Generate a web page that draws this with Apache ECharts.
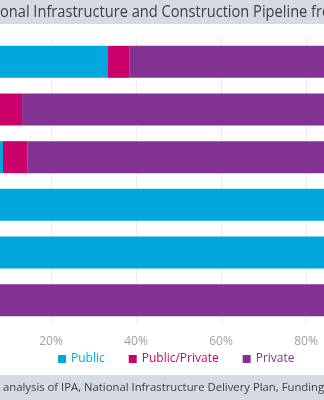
<!DOCTYPE html>
<html>
<head>
<meta charset="utf-8">
<script src="https://cdn.jsdelivr.net/npm/echarts@6/dist/echarts.min.js"></script>
<style>
  html, body { margin: 0; padding: 0; background: #ffffff; }
  #chart { width: 324px; height: 400px; }
</style>
</head>
<body>
<div id="chart"></div>
<script>
// Sectors of the pipeline, top to bottom
const sectors = ['Transport', 'Utilities', 'Energy', 'Social infrastructure', 'Science & research', 'Communications'];

// Share of each sector's pipeline by funding source (%)
const publicShare = [33.4, 0, 8.7, 100, 100, 0];
const publicPrivateShare = [5.0, 13.2, 5.7, 0, 0, 0];
const privateShare = [61.6, 86.8, 85.6, 0, 0, 100];

const seriesNames = ['Public', 'Public/Private', 'Private'];
const seriesColors = ['#00a7de', '#cc006b', '#833293'];

const xTicks = { min: 0, max: 100, interval: 20 };

const titleLead = 'Composition of the Nati';
const titleText = titleLead + 'onal Infrastructure and Construction Pipeline from 2018/19';
const sourceLead = 'Source: Centre for Cities ';
const sourceText = sourceLead + 'analysis of IPA, National Infrastructure Delivery Plan, Funding and Finance Supplement';

const font = '"Open Sans", "Noto Sans", sans-serif';
const titleFont = '17px ' + font;
const titleSquash = 0.86;   // the banner face is set slightly condensed
const sourceFont = '11.3px ' + font;

// Measure the lead-in text so the banner lines sit where the page is scrolled to
const ctx = document.createElement('canvas').getContext('2d');
function textWidth(s, f) { ctx.font = f; return ctx.measureText(s).width; }

const chart = echarts.init(document.getElementById('chart'));

const values = [publicShare, publicPrivateShare, privateShare];

chart.setOption({
  animation: false,
  textStyle: { fontFamily: font },
  grid: { left: -34, right: -67, top: 38, bottom: 76, containLabel: false, outerBoundsMode: 'none' },
  xAxis: {
    type: 'value',
    min: xTicks.min,
    max: xTicks.max,
    interval: xTicks.interval,
    axisLine: { show: false },
    axisTick: { show: false },
    axisLabel: { formatter: '{value}%', color: '#a0a0a0', fontSize: 12, margin: 12, fontFamily: font },
    splitLine: { show: true, lineStyle: { color: '#ececec', width: 1 } }
  },
  yAxis: {
    type: 'category',
    inverse: true,
    data: sectors,
    axisLine: { show: false },
    axisTick: { show: false },
    axisLabel: { show: false }
  },
  legend: {
    left: 53,
    top: 348,
    icon: 'rect',
    itemWidth: 8,
    itemHeight: 8,
    itemGap: 24,
    textStyle: { fontSize: 12, fontFamily: font },
    data: seriesNames.map((n, i) => ({ name: n, textStyle: { color: seriesColors[i] } }))
  },
  series: seriesNames.map((n, i) => ({
    name: n,
    type: 'bar',
    stack: 'total',
    barWidth: 32,
    itemStyle: { color: seriesColors[i] },
    data: values[i]
  })),
  graphic: [
    { type: 'rect', left: 0, top: 0, shape: { width: 324, height: 24 }, style: { fill: '#d5dbe0' }, z: 10 },
    { type: 'text', x: -textWidth(titleLead, titleFont) * titleSquash, y: 12, scaleX: titleSquash, style: { text: titleText, fill: '#3a3f44', font: titleFont, textVerticalAlign: 'middle' }, z: 11 },
    { type: 'rect', left: 0, top: 375, shape: { width: 324, height: 25 }, style: { fill: '#d5dbe0' }, z: 10 },
    { type: 'text', x: 3 - textWidth(sourceLead, sourceFont), y: 388, style: { text: sourceText, fill: '#3a3f44', font: sourceFont, textVerticalAlign: 'middle' }, z: 11 }
  ]
});
</script>
</body>
</html>
